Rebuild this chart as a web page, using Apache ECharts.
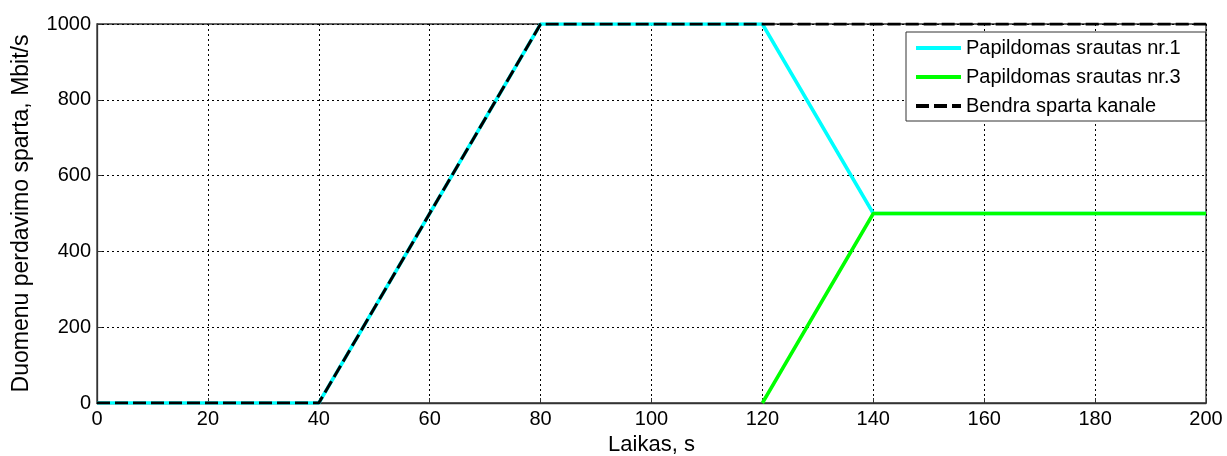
<!DOCTYPE html>
<html>
<head>
<meta charset="utf-8">
<script src="https://cdn.jsdelivr.net/npm/echarts@6/dist/echarts.min.js"></script>
<style>
  html, body { margin: 0; padding: 0; background: #fff; }
  #chart { width: 1227px; height: 456px; }
</style>
</head>
<body>
<div id="chart"></div>
<script>
// Time breakpoints (s) and rates (Mbit/s) for each flow
const flow1Time = [0, 40, 80, 120, 140, 200];
const flow1Rate = [0, 0, 1000, 1000, 500, 500];
const flow3Time = [120, 140, 200];
const flow3Rate = [0, 500, 500];
const totalTime = [0, 40, 80, 200];
const totalRate = [0, 0, 1000, 1000];

const seriesNames = ['Papildomas srautas nr.1', 'Papildomas srautas nr.3', 'Bendra sparta kanale'];
const xTicks = [0, 20, 40, 60, 80, 100, 120, 140, 160, 180, 200];
const yTicks = [0, 200, 400, 600, 800, 1000];

const pairs = (xs, ys) => xs.map((x, i) => [x, ys[i]]);

const font = 'Liberation Sans, Arial, sans-serif';
const gridLine = { show: true, lineStyle: { color: '#000', width: 1, type: [2, 3] } };
const axisLine = { show: true, onZero: false, lineStyle: { color: '#333', width: 1.3 } };

const chart = echarts.init(document.getElementById('chart'), null, { renderer: 'canvas' });
chart.setOption({
  animation: false,
  backgroundColor: '#fff',
  textStyle: { fontFamily: font },
  grid: {
    left: 97, right: 21, top: 24, bottom: 53,
    containLabel: false, outerBoundsMode: 'none',
    show: true, borderColor: '#333', borderWidth: 1.3
  },
  legend: {
    data: seriesNames,
    orient: 'vertical',
    left: 906,
    top: 32,
    padding: [6, 25, 5, 8],
    itemWidth: 45,
    itemHeight: 14,
    itemGap: 9,
    backgroundColor: '#fff',
    borderColor: '#333',
    borderWidth: 1,
    itemStyle: { opacity: 0 },
    lineStyle: { width: 4 },
    textStyle: { fontFamily: font, fontSize: 20, color: '#000', lineHeight: 20 }
  },
  xAxis: {
    type: 'value',
    min: 0, max: 200, interval: 20,
    name: 'Laikas, s',
    nameLocation: 'middle',
    nameGap: 25,
    nameTextStyle: { fontFamily: font, fontSize: 22, color: '#000' },
    axisLine: axisLine,
    axisTick: { show: true, inside: true, length: 5, lineStyle: { color: '#333' } },
    axisLabel: {
      fontFamily: font, fontSize: 20, color: '#000', margin: 6,
      formatter: v => xTicks.includes(v) ? String(v) : ''
    },
    splitLine: gridLine
  },
  yAxis: {
    type: 'value',
    min: 0, max: 1000, interval: 200,
    name: 'Duomenu perdavimo sparta, Mbit/s',
    nameLocation: 'middle',
    nameGap: 64,
    nameTextStyle: { fontFamily: font, fontSize: 23, color: '#000' },
    axisLine: axisLine,
    axisTick: { show: true, inside: true, length: 5, lineStyle: { color: '#333' } },
    axisLabel: {
      fontFamily: font, fontSize: 20, color: '#000', margin: 6,
      formatter: v => yTicks.includes(v) ? String(v) : ''
    },
    splitLine: gridLine
  },
  series: [
    {
      name: seriesNames[0], type: 'line', data: pairs(flow1Time, flow1Rate),
      showSymbol: false, symbol: 'none', z: 2,
      lineStyle: { color: '#00ffff', width: 3.5 }, itemStyle: { color: '#00ffff' }
    },
    {
      name: seriesNames[1], type: 'line', data: pairs(flow3Time, flow3Rate),
      showSymbol: false, symbol: 'none', z: 3,
      lineStyle: { color: '#00ff00', width: 3.5 }, itemStyle: { color: '#00ff00' }
    },
    {
      name: seriesNames[2], type: 'line', data: pairs(totalTime, totalRate),
      showSymbol: false, symbol: 'none', z: 4,
      lineStyle: { color: '#000', width: 3, type: [13, 5] }, itemStyle: { color: '#000' }
    }
  ]
});
</script>
</body>
</html>
